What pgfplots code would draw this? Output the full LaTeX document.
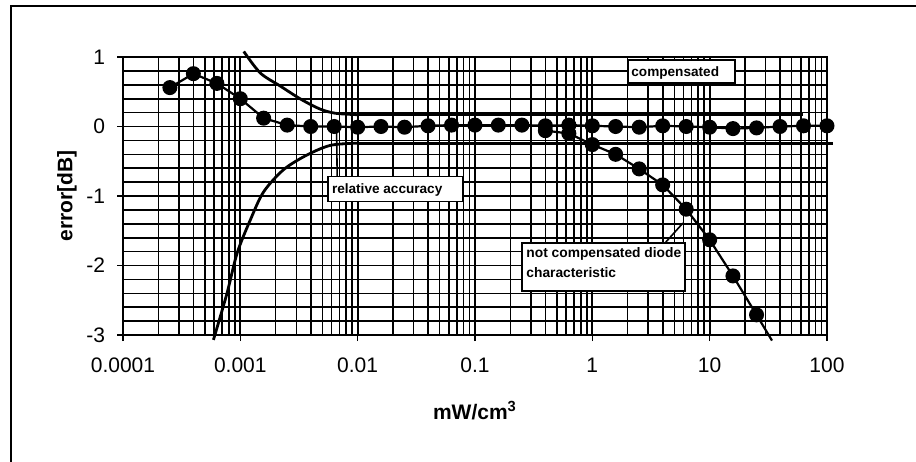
\documentclass[border=0pt]{standalone}
\usepackage{fontspec}
\setmainfont{Liberation Sans}
\usepackage{pgfplots}
\pgfplotsset{compat=1.18}

% measured error of the sensor, compensated
\pgfplotstableread{
x        y
0.000251 0.56
0.000398 0.76
0.000631 0.62
0.001    0.40
0.00158  0.12
0.00251  0.02
0.00398  0.00
0.00631  0.00
0.01    -0.01
0.0158   0.00
0.0251  -0.01
0.0398   0.01
0.0631   0.02
0.1      0.02
0.158    0.02
0.251    0.02
0.398    0.01
0.631    0.02
1        0.01
1.58     0.00
2.51    -0.01
3.98     0.01
6.31     0.00
10      -0.01
15.8    -0.03
25.1    -0.02
39.8     0.00
63.1     0.01
100      0.01
}\compensated

% diode characteristic without compensation
\pgfplotstableread{
x      y
0.398 -0.06
0.631 -0.10
1     -0.26
1.58  -0.40
2.51  -0.61
3.98  -0.84
6.31  -1.19
10    -1.63
15.8  -2.15
25.1  -2.71
}\notcompensated

\begin{document}
\begin{tikzpicture}[x=1pt,y=1pt]
\path[use as bounding box] (0,0) rectangle (458,230.5);
% outer frame
\draw[line width=0.8pt] (5.5,-2) -- (5.5,227.5) -- (460,227.5);

\begin{axis}[
  at={(61.5pt,63pt)}, anchor=south west,
  scale only axis, width=352pt, height=139pt,
  xmode=log, log basis x=10,
  xmin=1e-4, xmax=100, ymin=-3, ymax=1,
  xtick={1e-4,1e-3,0.01,0.1,1,10,100},
  xticklabels={0.0001,0.001,0.01,0.1,1,10,100},
  minor xtick={2e-4,3e-4,4e-4,5e-4,6e-4,7e-4,8e-4,9e-4,
    2e-3,3e-3,4e-3,5e-3,6e-3,7e-3,8e-3,9e-3,
    0.02,0.03,0.04,0.05,0.06,0.07,0.08,0.09,
    0.2,0.3,0.4,0.5,0.6,0.7,0.8,0.9,
    2,3,4,5,6,7,8,9,
    20,30,40,50,60,70,80,90},
  ytick={-3,-2,-1,0,1},
  yticklabels={-3,-2,-1,0,1},
  minor ytick={-2.8,-2.6,-2.4,-2.2,-1.8,-1.6,-1.4,-1.2,
    -0.8,-0.6,-0.4,-0.2,0.2,0.4,0.6,0.8},
  grid=both,
  major grid style={black, line width=0.9pt},
  minor grid style={black, line width=0.8pt},
  axis line style={black, line width=0.9pt},
  tick align=outside, major tick length=3pt, minor tick length=0pt,
  xtick pos=lower, ytick pos=left,
  tick style={black, line width=0.8pt},
  ticklabel style={font=\fontsize{10.5}{12}\selectfont},
  xticklabel style={yshift=-5pt},
  yticklabel style={xshift=-2.5pt},
  xlabel={mW/cm\textsuperscript{3}},
  ylabel={error[dB]},
  xlabel style={at={(axis description cs:0.5,-0.273)}, anchor=center,
    font=\fontsize{10.5}{12}\selectfont\bfseries},
  ylabel style={at={(axis description cs:-0.0795,0.5)}, anchor=center,
    font=\fontsize{10.5}{12}\selectfont\bfseries},
  clip=false,
]
% relative accuracy band
\addplot[black, line width=1.4pt, smooth] coordinates {
  (0.00107,1.08) (0.00148,0.77) (0.0022,0.58) (0.0033,0.39)
  (0.0048,0.25) (0.0065,0.19) (0.01,0.17)};
\addplot[black, line width=1.4pt] coordinates {(0.01,0.17) (63,0.17)};
\addplot[black, line width=1.4pt, smooth] coordinates {
  (0.00059,-3.07) (0.00077,-2.40) (0.00094,-1.82) (0.00122,-1.34)
  (0.00158,-0.94) (0.00234,-0.62) (0.0037,-0.41) (0.0059,-0.27)
  (0.01,-0.24)};
\addplot[black, line width=1.4pt] coordinates {(0.01,-0.24) (112,-0.24)};

% not compensated diode characteristic
\addplot[black, line width=1.1pt] coordinates {(25.1,-2.71) (34,-3.08)};
\addplot[black, line width=1.1pt, mark=*, mark size=3.2pt,
  mark options={fill=black}] table[x=x,y=y] {\notcompensated};

% compensated
\addplot[black, line width=1.1pt, mark=*, mark size=3.2pt,
  mark options={fill=black}] table[x=x,y=y] {\compensated};
\end{axis}

% annotation boxes
\draw[line width=0.8pt] (168.3,164) -- (168.6,142);
\draw[fill=white, line width=0.9pt] (164,129.7) rectangle (231.5,142.2);
\node[anchor=base west, inner sep=0pt, font=\fontsize{6.8}{8}\selectfont\bfseries]
  at (165.8,133.6) {relative accuracy};

\draw[fill=white, line width=0.9pt] (314,189) rectangle (367.5,200.5);
\node[anchor=base west, inner sep=0pt, font=\fontsize{6.8}{8}\selectfont\bfseries]
  at (315.5,192.3) {compensated};

\draw[line width=0.8pt] (332.5,109) -- (341.5,119);
\draw[fill=white, line width=0.9pt] (261,85) rectangle (342.5,109);
\node[anchor=base west, inner sep=0pt, font=\fontsize{6.9}{8}\selectfont\bfseries]
  at (263,101.6) {not compensated diode};
\node[anchor=base west, inner sep=0pt, font=\fontsize{6.9}{8}\selectfont\bfseries]
  at (263,91.6) {characteristic};
\end{tikzpicture}
\end{document}
